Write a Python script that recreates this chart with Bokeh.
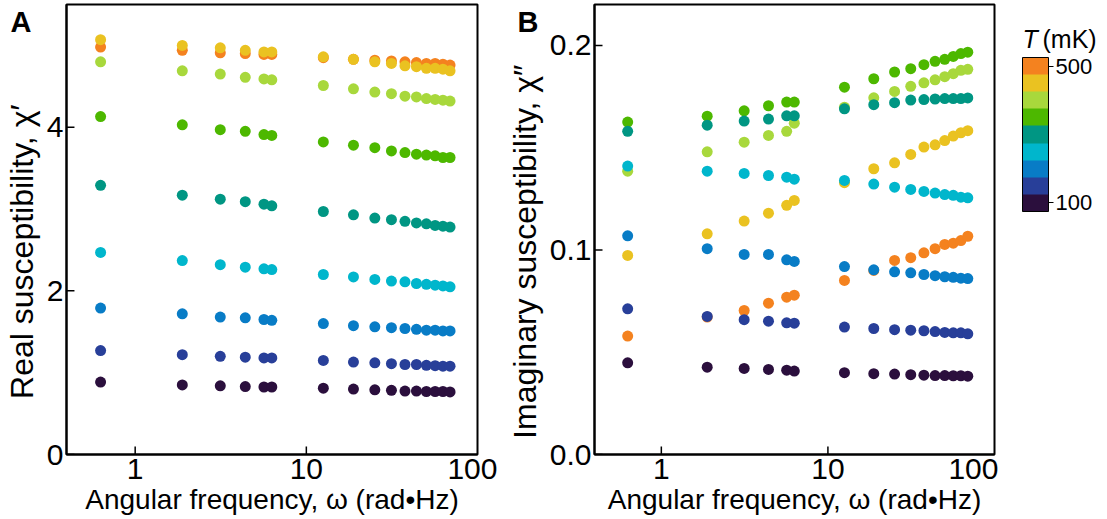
from bokeh.plotting import figure
from bokeh.models import (ColumnDataSource, FixedTicker, Range1d, Label, ColorBar,
                          LinearColorMapper, NumeralTickFormatter, Title)
from bokeh.layouts import row
from bokeh.transform import transform
from bokeh.embed import file_html
from bokeh.resources import INLINE
import math

FONT = "Liberation Sans"

# Angular frequency (rad*Hz)
omega = [0.628, 1.885, 3.142, 4.398, 5.655, 6.283, 12.57, 18.85,
         25.13, 31.42, 37.70, 43.98, 50.27, 56.55, 62.83, 69.12]

temps = [100, 150, 200, 250, 300, 350, 400, 450, 500]
palette = ["#2B0F3D", "#283F99", "#087CC6", "#00B6CC", "#009683",
           "#4DB800", "#A8D83C", "#EAC221", "#F4821F"]

# Real susceptibility chi'
real_100 = [0.885, 0.85, 0.84, 0.83, 0.825, 0.825, 0.81, 0.80, 0.79, 0.785, 0.775, 0.775, 0.77, 0.77, 0.77, 0.765]
real_150 = [1.27, 1.22, 1.20, 1.19, 1.18, 1.18, 1.15, 1.13, 1.12, 1.11, 1.10, 1.10, 1.09, 1.085, 1.08, 1.08]
real_200 = [1.79, 1.72, 1.68, 1.67, 1.65, 1.64, 1.60, 1.575, 1.56, 1.55, 1.54, 1.53, 1.52, 1.52, 1.51, 1.51]
real_250 = [2.47, 2.37, 2.32, 2.29, 2.27, 2.26, 2.20, 2.17, 2.14, 2.12, 2.11, 2.09, 2.08, 2.07, 2.06, 2.05]
real_300 = [3.29, 3.17, 3.12, 3.09, 3.06, 3.04, 2.97, 2.93, 2.89, 2.87, 2.85, 2.83, 2.82, 2.80, 2.79, 2.78]
real_350 = [4.13, 4.03, 3.97, 3.95, 3.91, 3.90, 3.82, 3.78, 3.75, 3.71, 3.69, 3.67, 3.66, 3.65, 3.63, 3.63]
real_400 = [4.80, 4.69, 4.65, 4.61, 4.59, 4.58, 4.51, 4.47, 4.43, 4.41, 4.38, 4.37, 4.35, 4.34, 4.33, 4.32]
real_450 = [5.07, 5.00, 4.97, 4.94, 4.92, 4.92, 4.86, 4.83, 4.80, 4.78, 4.75, 4.74, 4.72, 4.72, 4.71, 4.69]
real_500 = [4.98, 4.94, 4.91, 4.90, 4.89, 4.89, 4.85, 4.83, 4.82, 4.81, 4.80, 4.79, 4.78, 4.78, 4.77, 4.76]

# Imaginary susceptibility chi''
imag_100 = [0.0448, 0.0427, 0.0421, 0.0416, 0.0412, 0.0408, 0.0400, 0.0395, 0.0393, 0.0390, 0.0388, 0.0386, 0.0386, 0.0385, 0.0385, 0.0383]
imag_150 = [0.0712, 0.0675, 0.0659, 0.0652, 0.0644, 0.0642, 0.0623, 0.0616, 0.0610, 0.0608, 0.0605, 0.0601, 0.0597, 0.0595, 0.0595, 0.0590]
imag_200 = [0.1069, 0.1006, 0.0978, 0.0978, 0.0952, 0.0944, 0.0919, 0.0903, 0.0893, 0.0888, 0.0880, 0.0874, 0.0869, 0.0866, 0.0862, 0.0860]
imag_250 = [0.1410, 0.1385, 0.1374, 0.1364, 0.1356, 0.1346, 0.1340, 0.1322, 0.1307, 0.1296, 0.1286, 0.1278, 0.1271, 0.1267, 0.1258, 0.1255]
imag_300 = [0.1580, 0.1610, 0.1630, 0.1640, 0.1656, 0.1656, 0.1690, 0.1710, 0.1720, 0.1733, 0.1735, 0.1738, 0.1740, 0.1740, 0.1740, 0.1743]
imag_350 = [0.1625, 0.1654, 0.1680, 0.1705, 0.1723, 0.1723, 0.1796, 0.1837, 0.1870, 0.1886, 0.1906, 0.1922, 0.1932, 0.1946, 0.1960, 0.1967]
imag_400 = [0.1385, 0.1480, 0.1527, 0.1560, 0.1580, 0.1620, 0.1698, 0.1744, 0.1775, 0.1800, 0.1817, 0.1832, 0.1847, 0.1862, 0.1878, 0.1883]
imag_450 = [0.0973, 0.1079, 0.1141, 0.1180, 0.1218, 0.1242, 0.1329, 0.1397, 0.1426, 0.1467, 0.1503, 0.1514, 0.1535, 0.1557, 0.1573, 0.1583]
imag_500 = [0.0579, 0.0672, 0.0704, 0.0740, 0.0769, 0.0779, 0.0851, 0.0900, 0.0949, 0.0962, 0.0986, 0.1006, 0.1027, 0.1033, 0.1046, 0.1067]

real_series = [real_100, real_150, real_200, real_250, real_300, real_350, real_400, real_450, real_500]
imag_series = [imag_100, imag_150, imag_200, imag_250, imag_300, imag_350, imag_400, imag_450, imag_500]

x_ticks = [1, 10]
x_start, x_end = 0.397, 100

mapper = LinearColorMapper(palette=palette, low=75, high=525)

TICK_PX = 8
FRAME_H = 450


def long_source(series):
    xs, ys, ts = [], [], []
    # hottest first so that colder series are drawn on top
    for t, vals in sorted(zip(temps, series), key=lambda a: -a[0]):
        xs += omega
        ys += vals
        ts += [t] * len(vals)
    return ColumnDataSource(dict(w=xs, chi=ys, T=ts))


def canvas_label(p, x, y, text, size, style="normal"):
    p.add_layout(Label(x=x, y=y, x_units="canvas", y_units="canvas", text=text,
                       text_font=FONT, text_font_size=size, text_font_style=style,
                       text_color="black", text_baseline="alphabetic"))


PAD = "\u00a0" * 5


def panel(width, left, right, y_end, yticks, ylabel, yfmt, series, letter, letter_off):
    frame_w = width - left - right
    p = figure(width=width, height=519, x_axis_type="log",
               x_range=Range1d(x_start, x_end), y_range=Range1d(0, y_end),
               output_backend="svg", toolbar_location=None,
               min_border_left=left, min_border_right=right,
               min_border_top=4, min_border_bottom=65)
    p.scatter("w", "chi", source=long_source(series), size=11,
              fill_color=transform("T", mapper), line_color=None)
    # inward tick marks
    decade_px = frame_w / math.log10(x_end / x_start)
    kx = 10 ** (TICK_PX / decade_px)
    dy = TICK_PX * y_end / FRAME_H
    p.segment(x0=[x_start] * len(yticks), y0=yticks, x1=[x_start * kx] * len(yticks),
              y1=yticks, line_color="black", line_width=1.5)
    p.segment(x0=x_ticks, y0=[0] * len(x_ticks), x1=x_ticks, y1=[dy] * len(x_ticks),
              line_color="black", line_width=1.5)
    p.xaxis.ticker = FixedTicker(ticks=x_ticks + [100], minor_ticks=[])
    p.xaxis.formatter = NumeralTickFormatter(format="0")
    p.yaxis.ticker = FixedTicker(ticks=yticks, minor_ticks=[])
    p.yaxis.formatter = NumeralTickFormatter(format=yfmt)
    p.xaxis.axis_label = "Angular frequency, ω (rad•Hz)"
    p.yaxis.axis_label = ylabel + PAD
    for ax in (p.xaxis, p.yaxis):
        ax.major_tick_in = 0
        ax.major_tick_out = 0
        ax.minor_tick_line_color = None
        ax.axis_line_color = "black"
        ax.axis_line_width = 2
        ax.major_label_text_font = FONT
        ax.major_label_text_font_size = "30px"
        ax.major_label_text_color = "black"
        ax.axis_label_text_font = FONT
        ax.axis_label_text_font_style = "normal"
        ax.axis_label_text_color = "black"
    p.xaxis.axis_label_text_font_size = "28px"
    p.yaxis.axis_label_text_font_size = "32px"
    p.xaxis.major_label_standoff = 4
    p.yaxis.major_label_standoff = 3
    p.xaxis.axis_label_standoff = 2
    p.yaxis.axis_label_standoff = 4
    p.grid.visible = False
    p.outline_line_color = "black"
    p.outline_line_width = 2
    p.outline_line_alpha = 1
    p.background_fill_color = "white"
    p.border_fill_color = "white"
    # panel letter: negative standoff keeps the title panel from taking space
    p.add_layout(Title(text=letter, align="left", offset=letter_off, standoff=-66,
                       vertical_align="bottom",
                       text_font=FONT, text_font_size="29px", text_font_style="bold",
                       text_color="black"), "above")
    return p


pa = panel(497, 64, 20, 5.5, [0, 2, 4], "Real susceptibility, χ′", "0",
           real_series, "A", -56)
pb = panel(501, 97, 4, 0.22, [0.0, 0.1, 0.2], "Imaginary susceptibility, χ″", "0.0",
           imag_series, "B", -77)

# colour bar panel
pc = figure(width=109, height=519, x_range=Range1d(0, 1), y_range=Range1d(0, 1),
            output_backend="svg", toolbar_location=None,
            min_border_left=0, min_border_right=0, min_border_top=4, min_border_bottom=65)
pc.axis.visible = False
pc.grid.visible = False
pc.outline_line_color = None
cb = ColorBar(color_mapper=mapper, ticker=FixedTicker(ticks=[100, 500]),
              width=26, height=154, location=(24, 243), padding=0, margin=0,
              bar_line_color="black", bar_line_width=1,
              major_tick_in=0, major_tick_out=5, major_tick_line_color="black",
              major_label_text_font=FONT, major_label_text_font_size="22px",
              major_label_text_color="black", label_standoff=2,
              background_fill_color=None, border_line_color=None)
pc.add_layout(cb, "center")
canvas_label(pc, 24, 38, "T", "25px", "italic")
canvas_label(pc, 44, 38, "(mK)", "25px")

layout = row(pa, pb, pc)
open("out.html", "w").write(file_html(layout, INLINE))
